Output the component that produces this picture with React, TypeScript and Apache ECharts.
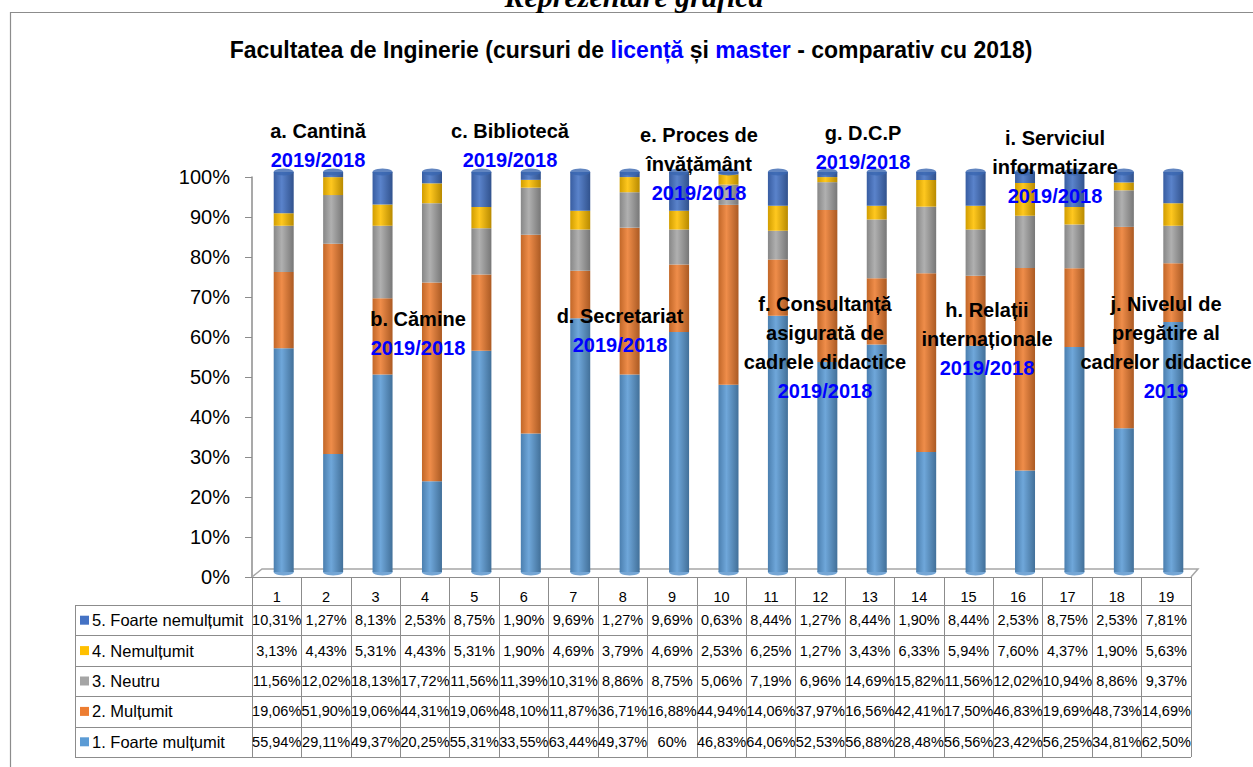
import React, { useEffect, useRef } from "react";
import * as echarts from "echarts";

const categories = ["1","2","3","4","5","6","7","8","9","10","11","12","13","14","15","16","17","18","19"];
const seriesNames = ["1. Foarte mulțumit", "2. Mulțumit", "3. Neutru", "4. Nemulțumit", "5. Foarte nemulțumit"];
const seriesColors = ["#5B9BD5", "#ED7D31", "#A5A5A5", "#FFC000", "#4472C4"];

const foarteMultumit = [55.94, 29.11, 49.37, 20.25, 55.31, 33.55, 63.44, 49.37, 60, 46.83, 64.06, 52.53, 56.88, 28.48, 56.56, 23.42, 56.25, 34.81, 62.5];
const multumit = [19.06, 51.9, 19.06, 44.31, 19.06, 48.1, 11.87, 36.71, 16.88, 44.94, 14.06, 37.97, 16.56, 42.41, 17.5, 46.83, 19.69, 48.73, 14.69];
const neutru = [11.56, 12.02, 18.13, 17.72, 11.56, 11.39, 10.31, 8.86, 8.75, 5.06, 7.19, 6.96, 14.69, 15.82, 11.56, 12.02, 10.94, 8.86, 9.37];
const nemultumit = [3.13, 4.43, 5.31, 4.43, 5.31, 1.9, 4.69, 3.79, 4.69, 2.53, 6.25, 1.27, 3.43, 6.33, 5.94, 7.6, 4.37, 1.9, 5.63];
const foarteNemultumit = [10.31, 1.27, 8.13, 2.53, 8.75, 1.9, 9.69, 1.27, 9.69, 0.63, 8.44, 1.27, 8.44, 1.9, 8.44, 2.53, 8.75, 2.53, 7.81];

const seriesData = [foarteMultumit, multumit, neutru, nemultumit, foarteNemultumit];
const yTicks = [0, 10, 20, 30, 40, 50, 60, 70, 80, 90, 100];

const annotations: { x: number; y: number; lines: string[]; year: string }[] = [
  { x: 318, y: 116, lines: ["a. Cantină"], year: "2019/2018" },
  { x: 418, y: 304, lines: ["b. Cămine"], year: "2019/2018" },
  { x: 510, y: 116, lines: ["c. Bibliotecă"], year: "2019/2018" },
  { x: 620, y: 301, lines: ["d. Secretariat"], year: "2019/2018" },
  { x: 699, y: 120, lines: ["e. Proces de", "învățământ"], year: "2019/2018" },
  { x: 825, y: 289, lines: ["f. Consultanță", "asigurată de", "cadrele didactice"], year: "2019/2018" },
  { x: 863, y: 118, lines: ["g. D.C.P"], year: "2019/2018" },
  { x: 987, y: 295, lines: ["h. Relații", "internaționale"], year: "2019/2018" },
  { x: 1055, y: 123, lines: ["i. Serviciul", "informatizare"], year: "2019/2018" },
  { x: 1166, y: 289, lines: ["j. Nivelul de", "pregătire al", "cadrelor didactice"], year: "2019" },
];

const FONT = "'Liberation Sans', Arial, sans-serif";

function shade(hex: string, amt: number): string {
  const n = parseInt(hex.slice(1), 16);
  let r = (n >> 16) & 255, g = (n >> 8) & 255, b = n & 255;
  const t = amt < 0 ? 0 : 255;
  const p = Math.abs(amt);
  r = Math.round(r + (t - r) * p);
  g = Math.round(g + (t - g) * p);
  b = Math.round(b + (t - b) * p);
  return "#" + ((1 << 24) + (r << 16) + (g << 8) + b).toString(16).slice(1);
}

function cyl(c: string) {
  return new echarts.graphic.LinearGradient(0, 0, 1, 0, [
    { offset: 0, color: shade(c, -0.18) },
    { offset: 0.4, color: shade(c, 0.12) },
    { offset: 1, color: shade(c, -0.28) },
  ]);
}

function fmt(v: number): string {
  if (Number.isInteger(v)) return v + "%";
  return v.toFixed(2).replace(".", ",") + "%";
}

export default function App() {
  const ref = useRef<HTMLDivElement>(null);

  useEffect(() => {
    if (!ref.current) return;
    const chart = echarts.init(ref.current, null, { renderer: "svg" });

    const totals = categories.map((_, i) => seriesData.reduce((s, arr) => s + arr[i], 0));

    // table geometry
    const tableLeft = 75;
    const colLeft = 252;
    const colRight = 1191;
    const colW = (colRight - colLeft) / categories.length;
    const rowTop = 605;
    const rowH = 30.4;

    const graphics: any[] = [];
    // outer border
    graphics.push({
      type: "rect",
      shape: { x: 10.5, y: 12.5, width: 1400, height: 900 },
      style: { fill: "none", stroke: "#8C8C8C", lineWidth: 1.2 },
      z: 0,
    });
    // cropped heading (cut at the top edge, as in the source page)
    graphics.push({
      type: "text",
      x: 634,
      y: 11,
      style: {
        text: "Reprezentare grafică",
        font: "bold italic 30px 'Liberation Serif', 'Times New Roman', serif",
        fill: "#000",
        textAlign: "center",
        textVerticalAlign: "bottom",
      },
      z: 100,
    });
    // title
    graphics.push({
      type: "text",
      x: 631,
      y: 50,
      style: {
        text: "{b|Facultatea de Inginerie (cursuri de }{c|licență}{b| și }{c|master}{b| - comparativ cu 2018)}",
        textAlign: "center",
        textVerticalAlign: "middle",
        rich: {
          b: { font: "bold 23px " + FONT, fill: "#000" },
          c: { font: "bold 23px " + FONT, fill: "#0000FF" },
        },
      },
      z: 100,
    });
    // floor
    graphics.push({
      type: "polyline",
      shape: { points: [[252, 577], [262, 569], [1198, 569], [1191, 577]] },
      style: { stroke: "#A6A6A6", lineWidth: 1.5, fill: "none" },
      z: 1,
    });
    // table horizontal lines
    for (let r = 0; r <= 5; r++) {
      const y = Math.round(rowTop + r * rowH) + 0.5;
      graphics.push({
        type: "line",
        shape: { x1: tableLeft, y1: y, x2: colRight, y2: y },
        style: { stroke: "#8C8C8C", lineWidth: 1 },
        z: 5,
      });
    }
    graphics.push({
      type: "line",
      shape: { x1: tableLeft + 0.5, y1: rowTop, x2: tableLeft + 0.5, y2: rowTop + 5 * rowH },
      style: { stroke: "#8C8C8C", lineWidth: 1 },
      z: 5,
    });
    // rows: top = series 5 ... bottom = series 1
    for (let r = 0; r < 5; r++) {
      const s = 4 - r;
      const cy = rowTop + r * rowH + rowH / 2;
      graphics.push({
        type: "rect",
        shape: { x: 80, y: cy - 4.5, width: 9, height: 9 },
        style: { fill: seriesColors[s] },
        z: 6,
      });
      graphics.push({
        type: "text",
        x: 92,
        y: cy,
        style: {
          text: seriesNames[s],
          font: "16.5px " + FONT,
          fill: "#000",
          textVerticalAlign: "middle",
        },
        z: 6,
      });
      seriesData[s].forEach((v, i) => {
        graphics.push({
          type: "text",
          x: colLeft + colW * (i + 0.5),
          y: cy,
          style: {
            text: fmt(v),
            font: "14.5px " + FONT,
            fill: "#000",
            textAlign: "center",
            textVerticalAlign: "middle",
          },
          z: 6,
        });
      });
    }
    // annotations
    annotations.forEach((a) => {
      const txt = a.lines.map((l) => "{k|" + l + "}").join("\n") + "\n{y|" + a.year + "}";
      graphics.push({
        type: "text",
        x: a.x,
        y: a.y,
        style: {
          text: txt,
          textAlign: "center",
          textVerticalAlign: "top",
          rich: {
            k: { font: "bold 20px " + FONT, fill: "#000", lineHeight: 29, align: "center" },
            y: { font: "bold 20px " + FONT, fill: "#0000FF", lineHeight: 29, align: "center" },
          },
        },
        z: 100,
      });
    });

    const barSeries = seriesData.map((arr, s) => ({
      name: seriesNames[s],
      type: "bar",
      stack: "total",
      xAxisIndex: 0,
      yAxisIndex: 0,
      barWidth: 20,
      data: arr.map((v, i) => (v / totals[i]) * 100),
      itemStyle: { color: cyl(seriesColors[s]) },
      z: 3,
    }));

    const option: any = {
      animation: false,
      backgroundColor: "#fff",
      grid: [
        { left: 259, right: 55, top: 172, bottom: 195 },
        { left: 252, right: 62, top: 177, bottom: 190 },
      ],
      xAxis: [
        { type: "category", gridIndex: 0, data: categories, show: false },
        {
          type: "category",
          gridIndex: 1,
          data: categories,
          axisLine: { show: true, lineStyle: { color: "#8C8C8C", width: 1 } },
          axisTick: { show: true, length: 180, interval: 0, lineStyle: { color: "#8C8C8C" } },
          axisLabel: { show: true, interval: 0, margin: 12, fontSize: 14.5, fontFamily: FONT, color: "#000" },
          z: 4,
        },
      ],
      yAxis: [
        { type: "value", gridIndex: 0, min: 0, max: 100, show: false },
        {
          type: "value",
          gridIndex: 1,
          min: 0,
          max: 100,
          interval: 10,
          axisLine: { show: true, lineStyle: { color: "#8C8C8C", width: 1.5 } },
          axisTick: { show: true, length: 7, lineStyle: { color: "#8C8C8C" } },
          axisLabel: {
            formatter: (v: number) => (yTicks.includes(v) ? v + "%" : ""),
            fontSize: 20,
            fontFamily: FONT,
            color: "#000",
            margin: 22,
          },
          splitLine: { show: false },
        },
      ],
      series: [
        ...barSeries,
        {
          type: "scatter",
          xAxisIndex: 0,
          yAxisIndex: 0,
          symbol: "circle",
          symbolSize: [20, 7],
          data: categories.map(() => 100),
          itemStyle: { color: "#3A66B0" },
          z: 4,
          silent: true,
        },
        {
          type: "scatter",
          xAxisIndex: 0,
          yAxisIndex: 0,
          symbol: "circle",
          symbolSize: [20, 7],
          data: categories.map(() => 0),
          itemStyle: { color: "#5390CB" },
          z: 2,
          silent: true,
        },
      ],
      graphic: graphics,
    };

    chart.setOption(option);
    return () => chart.dispose();
  }, []);

  return (
    <div
      ref={ref}
      style={{ position: "absolute", left: 0, top: 0, width: 1253, height: 767, background: "#fff" }}
    />
  );
}
